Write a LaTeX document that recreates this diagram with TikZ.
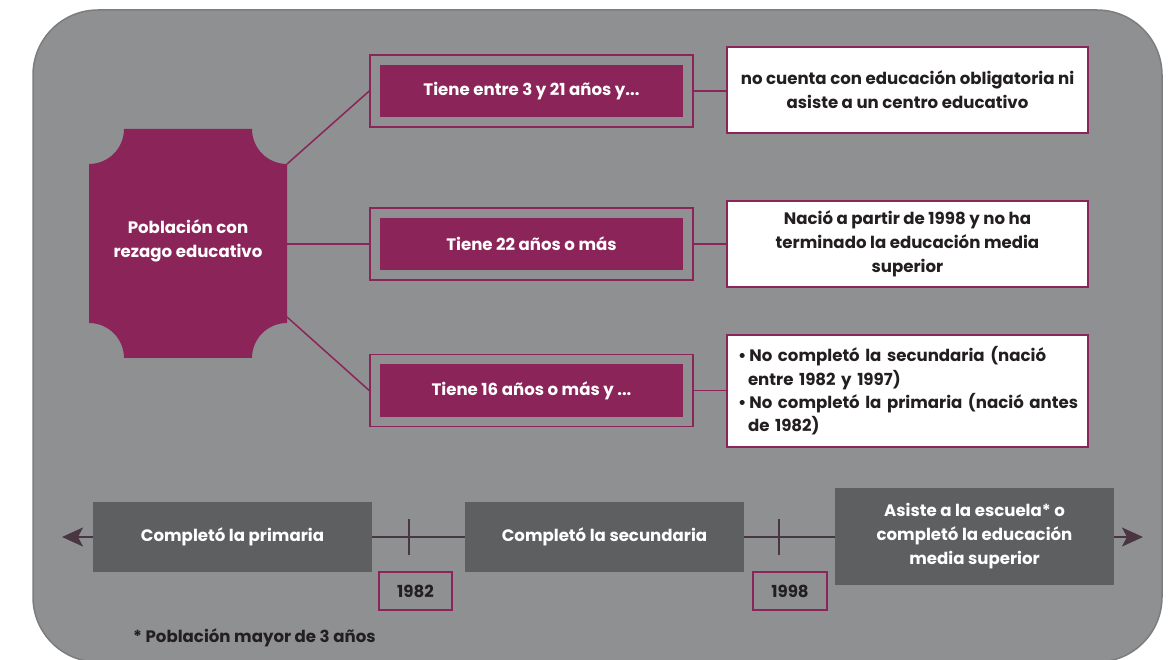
\documentclass[tikz,border=0pt]{standalone}
\usepackage{fontspec}
\setmainfont{Poppins}
\usetikzlibrary{arrows.meta}
\definecolor{bg}{HTML}{8F9092}
\definecolor{bgline}{HTML}{7C7D7F}
\definecolor{mag}{HTML}{8B2459}
\definecolor{dark}{HTML}{5E5F61}
\definecolor{tlc}{HTML}{4A3641}
\definecolor{ink}{HTML}{231F20}
\begin{document}
\begin{tikzpicture}[x=1pt,y=-1pt,
  font=\bfseries\fontsize{16.6}{24}\selectfont,
  frame/.style={draw=mag, line width=1.5pt, minimum width=323pt, minimum height=72pt, inner sep=0pt},
  inbox/.style={fill=mag, text=white, minimum width=303pt, minimum height=52pt, inner sep=0pt},
  wbox/.style={draw=mag, fill=white, line width=2pt, text=ink, minimum width=361pt, inner sep=0pt, align=center},
  link/.style={draw=mag, line width=1.5pt},
  tbox/.style={fill=dark, text=white, minimum width=279pt, minimum height=70pt, inner sep=0pt, align=center},
  yearbox/.style={draw=mag, line width=2pt, text=ink, minimum width=73pt, minimum height=38pt, inner sep=0pt},
  tickline/.style={draw=tlc, line width=2pt},
  tline/.style={draw=tlc, line width=2pt, {Stealth[length=21pt,width=19pt,inset=5pt]}-{Stealth[length=21pt,width=19pt,inset=5pt]}}
]
\useasboundingbox (0,0) rectangle (1173,660);
\fill[white] (0,0) rectangle (1173,660);
\begin{scope}
  \clip (0,0) rectangle (1173,660);
  \draw[bgline, fill=bg, line width=1.5pt, rounded corners=65pt] (33,10) rectangle (1162,662);
\end{scope}

% central shape
\fill[mag] (124,129) -- (252,129) arc[start angle=180,end angle=90,radius=35]
  -- (287,323) arc[start angle=270,end angle=180,radius=35]
  -- (124,358) arc[start angle=0,end angle=-90,radius=35]
  -- (89,164) arc[start angle=90,end angle=0,radius=35] -- cycle;
\node[text=white, align=center] (pob) at (188,241) {Población con\\rezago educativo};
\coordinate (pobA) at (287,164);
\coordinate (pobB) at (287,244);
\coordinate (pobC) at (287,317);

% middle boxes
\node[frame] (f1) at (531.5,91) {};
\node[inbox] (i1) at (531.5,91) {Tiene entre 3 y 21 años y...};
\node[frame] (f2) at (531.5,244) {};
\node[inbox] (i2) at (531.5,244) {Tiene 22 años o más};
\node[frame] (f3) at (531.5,390.5) {};
\node[inbox] (i3) at (531.5,390.5) {Tiene 16 años o más y ...};

% right boxes
\node[wbox, minimum height=86pt] (w1) at (907.5,90) {no cuenta con educación obligatoria ni\\asiste a un centro educativo};
\node[wbox, minimum height=86pt] (w2) at (907.5,244) {Nació a partir de 1998 y no ha\\terminado la educación media\\superior};
\node[wbox, minimum height=112pt, text width=339pt, inner xsep=11pt, align=left, font=\bfseries\fontsize{16.6}{23.4}\selectfont] (w3) at (907.5,391)
  {\mbox{•\hspace{3pt}No completó la secundaria (nació}\\\mbox{\hspace*{10pt}entre 1982 y 1997)}\\\mbox{•\hspace{3pt}No completó la primaria (nació antes}\\\mbox{\hspace*{10pt}de 1982)}};

% connectors
\draw[link] (pobA) -- (f1.west);
\draw[link] (pobB) -- (f2.west);
\draw[link] (pobC) -- (f3.west);
\draw[link] (f1.east) -- (f1.east -| w1.west);
\draw[link] (f2.east) -- (f2.east -| w2.west);
\draw[link] (f3.east) -- (f3.east -| w3.west);

% timeline
\coordinate (tlL) at (62,537);
\coordinate (tlR) at (1143,537);
\draw[tline] (tlL) -- (tlR);
\coordinate (k1a) at (409,519); \coordinate (k1b) at (409,555);
\coordinate (k2a) at (779,519); \coordinate (k2b) at (779,555);
\draw[tickline] (k1a) -- (k1b);
\draw[tickline] (k2a) -- (k2b);
\node[tbox] (t1) at (232.5,537) {Completó la primaria};
\node[tbox] (t2) at (604.5,537) {Completó la secundaria};
\node[tbox, minimum height=97pt] (t3) at (974.5,536.5) {Asiste a la escuela* o\\completó la educación\\media superior};
\node[yearbox] (y1) at (415.5,591) {1982};
\node[yearbox, minimum width=74pt] (y2) at (790,591) {1998};

\node[text=ink, anchor=west, inner sep=0pt] (foot) at (133,638) {* Población mayor de 3 años};
\end{tikzpicture}
\end{document}
